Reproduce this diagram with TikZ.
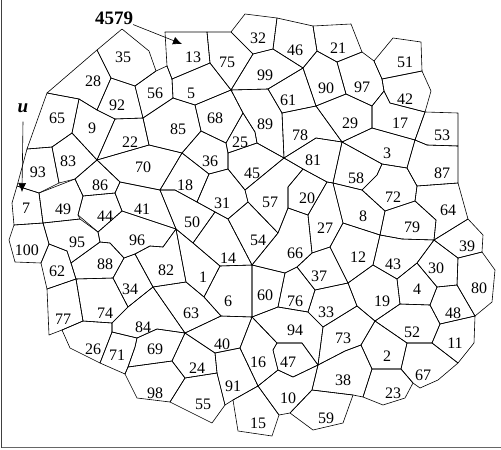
\documentclass[tikz,border=0pt]{standalone}
\usepackage{fontspec}
\setmainfont{Liberation Serif}
\usetikzlibrary{arrows.meta}
\begin{document}
\begin{tikzpicture}[x=1pt,y=-1pt,
  cell/.style={line width=0.6pt, line join=round},
  num/.style={font=\fontsize{16}{16}\selectfont, inner sep=0pt},
  tag/.style={font=\fontsize{19}{19}\selectfont\bfseries, inner sep=0pt}]
\useasboundingbox (0,0) rectangle (501,450);
% frame
\draw[black!75, line width=0.8pt] (1.5,0) -- (1.5,448);
\draw[black!60, line width=1.5pt] (1.5,447.5) -- (501,447.5);
% top cells
\draw[cell] (122,29)--(149,51)--(156,71)--(135,86)--(111,78)--(97,50)--cycle; % 35
\draw[cell] (97,50)--(111,78)--(97,110)--(79,99)--(47,93)--cycle; % 28
\draw[cell] (111,78)--(135,86)--(143,118)--(115,119)--(97,110)--cycle; % 92
\draw[cell] (156,71)--(167,66)--(172,79)--(173,98)--(143,118)--(135,86)--cycle; % 56
\draw[cell] (165,32)--(207,32)--(210,63)--(172,79)--(167,66)--cycle; % 13
\draw[cell] (207,32)--(231,32)--(253,54)--(231,90)--(210,63)--cycle; % 75
\draw[cell] (231,32)--(245,14)--(277,18)--(273,49)--(253,54)--cycle; % 32
\draw[cell] (277,18)--(313,26)--(317,51)--(303,68)--(273,49)--cycle; % 46
\draw[cell] (313,26)--(351,24)--(362,52)--(337,62)--(317,51)--cycle; % 21
\draw[cell] (253,54)--(273,49)--(303,68)--(268,89)--(231,90)--cycle; % 99
\draw[cell] (303,68)--(317,51)--(337,62)--(346,94)--(316,106)--cycle; % 90
\draw[cell] (337,62)--(362,52)--(374,61)--(382,79)--(384,91)--(372,106)--(346,94)--cycle; % 97
\draw[cell] (374,61)--(393,38)--(421,42)--(422,71)--(382,79)--cycle; % 51
\draw[cell] (382,79)--(422,71)--(431,91)--(425,112)--(390,103)--(384,91)--cycle; % 42
\draw[cell] (372,106)--(384,91)--(390,103)--(425,112)--(415,140)--(372,128)--cycle; % 17
\draw[cell] (425,112)--(458,113)--(458,146)--(427,145)--(415,140)--cycle; % 53
\draw[cell] (316,106)--(346,94)--(372,106)--(372,128)--(342,142)--cycle; % 29
\draw[cell] (268,89)--(303,68)--(316,106)--(282,113)--cycle; % 61
\draw[cell] (172,79)--(210,63)--(231,90)--(195,105)--(173,98)--cycle; % 5
% upper middle
\draw[cell] (47,93)--(79,99)--(72,133)--(52,147)--(27,149)--cycle; % 65
\draw[cell] (79,99)--(97,110)--(115,119)--(97,160)--(72,133)--cycle; % 9
\draw[cell] (115,119)--(143,118)--(149,145)--(97,160)--cycle; % 22
\draw[cell] (143,118)--(173,98)--(195,105)--(201,131)--(182,153)--(149,145)--cycle; % 85
\draw[cell] (195,105)--(231,90)--(243,113)--(226,143)--(201,131)--cycle; % 68
\draw[cell] (231,90)--(268,89)--(282,113)--(284,158)--(257,143)--(255,132)--(243,113)--cycle; % 89
\draw[cell] (226,143)--(243,113)--(255,132)--(257,143)--(228,153)--cycle; % 25
\draw[cell] (282,113)--(316,106)--(342,142)--(316,138)--(284,158)--cycle; % 78
\draw[cell] (27,149)--(52,147)--(59,183)--(39,193)--(17,186)--cycle; % 93
\draw[cell] (52,147)--(72,133)--(97,160)--(75,179)--(59,183)--cycle; % 83
\draw[cell] (97,160)--(149,145)--(182,153)--(160,190)--(120,182)--cycle; % 70
\draw[cell] (182,153)--(201,131)--(226,143)--(228,153)--(228,169)--(209,174)--cycle; % 36
\draw[cell] (228,153)--(257,143)--(284,158)--(245,190)--(228,169)--cycle; % 45
\draw[cell] (284,158)--(316,138)--(342,142)--(333,183)--(327,182)--(303,169)--cycle; % 81
\draw[cell] (342,142)--(372,128)--(415,140)--(407,168)--(382,164)--cycle; % 3
\draw[cell] (415,140)--(427,145)--(458,146)--(458,183)--(417,186)--(407,168)--cycle; % 87
\draw[cell] (342,142)--(382,164)--(377,175)--(362,190)--(333,183)--cycle; % 58
\draw[cell] (382,164)--(407,168)--(417,186)--(415,201)--(385,211)--(362,190)--(377,175)--cycle; % 72
\draw[cell] (417,186)--(458,183)--(468,219)--(434,240)--(436,220)--(415,201)--cycle; % 64
% middle
\draw[cell] (17,186)--(39,193)--(43,223)--(14,225)--(12,203)--cycle; % 7
\draw[cell] (75,179)--(97,160)--(120,182)--(115,193)--(83,196)--cycle; % 86
\draw[cell] (39,193)--(75,179)--(83,196)--(78,215)--(80,219)--(43,223)--cycle; % 49
\draw[cell] (83,196)--(115,193)--(122,211)--(98,232)--(78,215)--cycle; % 44
\draw[cell] (115,193)--(120,182)--(160,190)--(176,229)--(122,211)--cycle; % 41
\draw[cell] (182,153)--(209,174)--(197,202)--(175,190)--(160,190)--cycle; % 18
\draw[cell] (209,174)--(228,169)--(245,190)--(248,202)--(228,219)--(197,202)--cycle; % 31
\draw[cell] (245,190)--(284,158)--(303,169)--(288,187)--(288,208)--(278,233)--(248,202)--cycle; % 57
\draw[cell] (288,187)--(303,169)--(327,182)--(308,215)--(288,208)--cycle; % 20
\draw[cell] (308,215)--(327,182)--(333,183)--(343,223)--(330,247)--(312,253)--cycle; % 27
\draw[cell] (333,183)--(362,190)--(385,211)--(380,235)--(343,223)--cycle; % 8
\draw[cell] (385,211)--(415,201)--(436,220)--(434,240)--(402,239)--(380,235)--cycle; % 79
\draw[cell] (434,240)--(468,219)--(483,235)--(482,252)--(458,258)--cycle; % 39
\draw[cell] (160,190)--(175,190)--(215,212)--(193,243)--(176,229)--cycle; % 50
\draw[cell] (228,219)--(248,202)--(278,233)--(252,265)--cycle; % 54
\draw[cell] (193,243)--(215,212)--(228,219)--(252,265)--(220,266)--cycle; % 14
\draw[cell] (278,233)--(288,208)--(308,215)--(312,253)--(297,267)--(285,273)--(252,265)--cycle; % 66
\draw[cell] (330,247)--(343,223)--(380,235)--(373,265)--(348,283)--cycle; % 12
\draw[cell] (380,235)--(402,239)--(434,240)--(417,263)--(397,279)--(373,265)--cycle; % 43
\draw[cell] (417,263)--(434,240)--(458,258)--(457,285)--(437,287)--cycle; % 30
\draw[cell] (457,285)--(458,258)--(482,252)--(495,270)--(492,302)--(475,316)--cycle; % 80
% lower middle
\draw[cell] (14,225)--(43,223)--(49,244)--(41,263)--(15,262)--(9,240)--cycle; % 100
\draw[cell] (43,223)--(80,219)--(98,232)--(100,242)--(71,263)--(67,251)--(49,244)--cycle; % 95
\draw[cell] (98,232)--(122,211)--(176,229)--(163,247)--(150,246)--(135,254)--(124,258)--(110,243)--(100,242)--cycle; % 96
\draw[cell] (49,244)--(67,251)--(71,263)--(76,279)--(47,289)--(41,263)--cycle; % 62
\draw[cell] (100,242)--(110,243)--(124,258)--(113,278)--(76,279)--(71,263)--cycle; % 88
\draw[cell] (135,254)--(150,246)--(163,247)--(176,229)--(186,282)--(153,287)--cycle; % 82
\draw[cell] (176,229)--(193,243)--(220,266)--(204,297)--(186,282)--cycle; % 1
\draw[cell] (220,266)--(252,265)--(252,317)--(221,316)--(204,297)--cycle; % 6
\draw[cell] (252,265)--(285,273)--(278,307)--(252,317)--cycle; % 60
\draw[cell] (285,273)--(297,267)--(315,290)--(308,312)--(278,307)--cycle; % 76
\draw[cell] (297,267)--(312,253)--(330,247)--(348,283)--(315,290)--cycle; % 37
\draw[cell] (315,290)--(348,283)--(357,306)--(323,327)--(308,312)--cycle; % 33
\draw[cell] (348,283)--(373,265)--(397,279)--(400,304)--(375,321)--(357,306)--cycle; % 19
\draw[cell] (397,279)--(417,263)--(437,287)--(430,305)--(400,304)--cycle; % 4
\draw[cell] (437,287)--(457,285)--(475,316)--(440,324)--(430,305)--cycle; % 48
\draw[cell] (113,278)--(124,258)--(135,254)--(153,287)--(128,307)--cycle; % 34
\draw[cell] (47,289)--(76,279)--(83,321)--(62,330)--(49,335)--cycle; % 77
\draw[cell] (76,279)--(113,278)--(128,307)--(112,323)--(83,321)--cycle; % 74
\draw[cell] (112,323)--(128,307)--(153,287)--(185,333)--(157,329)--(137,338)--(112,332)--cycle; % 84
\draw[cell] (153,287)--(186,282)--(204,297)--(221,316)--(185,333)--cycle; % 63
\draw[cell] (252,317)--(278,307)--(308,312)--(323,327)--(318,365)--(302,343)--(277,343)--cycle; % 94
\draw[cell] (323,327)--(357,306)--(375,321)--(361,345)--(345,351)--(318,365)--cycle; % 73
\draw[cell] (375,321)--(400,304)--(430,305)--(440,324)--(432,343)--(407,343)--cycle; % 52
\draw[cell] (440,324)--(475,316)--(474,343)--(458,363)--(432,343)--cycle; % 11
% bottom cells
\draw[cell] (62,330)--(83,321)--(112,323)--(112,332)--(100,363)--(70,348)--cycle; % 26
\draw[cell] (112,332)--(137,338)--(135,347)--(128,367)--(125,374)--(100,363)--cycle; % 71
\draw[cell] (137,338)--(157,329)--(185,333)--(172,361)--(128,367)--(135,347)--cycle; % 69
\draw[cell] (185,333)--(221,316)--(252,317)--(240,348)--(215,353)--cycle; % 40
\draw[cell] (240,348)--(252,317)--(277,343)--(273,350)--(278,370)--(258,386)--cycle; % 16
\draw[cell] (277,343)--(302,343)--(318,365)--(293,377)--(278,370)--(273,350)--cycle; % 47
\draw[cell] (375,321)--(407,343)--(401,369)--(372,369)--(361,345)--cycle; % 2
\draw[cell] (407,343)--(432,343)--(458,363)--(438,380)--(420,388)--(413,383)--(401,369)--cycle; % 67
\draw[cell] (185,333)--(215,353)--(217,373)--(185,378)--(172,361)--cycle; % 24
\draw[cell] (215,353)--(240,348)--(258,386)--(233,400)--(225,405)--(217,373)--cycle; % 91
\draw[cell] (125,374)--(128,367)--(172,361)--(185,378)--(170,402)--(137,398)--cycle; % 98
\draw[cell] (170,402)--(185,378)--(217,373)--(225,405)--(212,423)--cycle; % 55
\draw[cell] (233,400)--(258,386)--(279,415)--(272,436)--(238,431)--cycle; % 15
\draw[cell] (258,386)--(278,370)--(293,377)--(318,365)--(312,390)--(290,413)--(279,415)--cycle; % 10
\draw[cell] (318,365)--(345,351)--(361,345)--(372,369)--(363,397)--(353,395)--(312,390)--cycle; % 38
\draw[cell] (290,413)--(312,390)--(353,395)--(343,423)--(313,430)--cycle; % 59
\draw[cell] (363,397)--(372,369)--(401,369)--(413,383)--(405,398)--(383,405)--cycle; % 23
% cell numbers
\foreach \n/\x/\y in {35/123/57, 28/93/81, 92/117/105, 56/155/93, 13/193/57,
    75/227/62, 32/258/38, 46/295/50, 21/338/48, 99/265/75, 90/326/88,
    97/362/87, 51/405/62, 42/405/99, 17/400/123, 53/442/135, 29/350/123,
    61/288/100, 5/191/93, 65/57/118, 9/92/128, 22/130/142, 85/178/129,
    68/215/118, 89/265/124, 25/240/142, 78/300/135, 93/38/172, 83/68/161,
    70/143/167, 36/210/161, 45/252/173, 81/313/160, 3/387/153, 87/442/173,
    58/356/178, 72/393/197, 64/448/210, 7/26/208, 86/100/185, 49/63/209,
    44/105/216, 41/142/209, 18/185/185, 31/222/203, 57/270/202, 20/307/198,
    27/325/228, 8/363/216, 79/412/227, 39/467/246, 50/192/222, 54/258/240,
    14/228/258, 66/295/253, 12/358/257, 43/393/264, 30/436/268, 80/479/288,
    100/27/250, 95/77/242, 96/137/240, 62/57/271, 88/105/264, 82/166/270,
    1/203/277, 6/228/301, 60/265/295, 76/295/301, 37/319/276, 33/326/312,
    19/382/301, 4/417/289, 48/453/313, 34/130/289, 77/63/319, 74/105/313,
    84/143/327, 63/191/313, 94/295/330, 73/343/338, 52/412/332, 11/455/343,
    26/93/349, 71/117/355, 69/155/349, 40/222/344, 16/258/362, 47/288/362,
    2/387/356, 67/423/375, 24/197/368, 91/233/386, 98/155/393, 55/203/404,
    15/258/423, 10/288/398, 38/343/380, 59/326/418, 23/393/393}
  \node[num] (c\n) at (\x,\y) {\n};
% markers
\node[tag] (id) at (114,18) {4579};
\coordinate (hit) at (182,44);
\draw[line width=0.6pt, -{Latex[length=9pt,width=8pt]}] (id.south east) -- (hit);
\node[tag, font=\fontsize{19}{19}\selectfont\bfseries\itshape] (u) at (23,108) {u};
\coordinate (start) at (22,192);
\draw[line width=0.6pt, -{Latex[length=9pt,width=8pt]}] ([yshift=-9pt]u.south) -- (start);
\end{tikzpicture}
\end{document}
